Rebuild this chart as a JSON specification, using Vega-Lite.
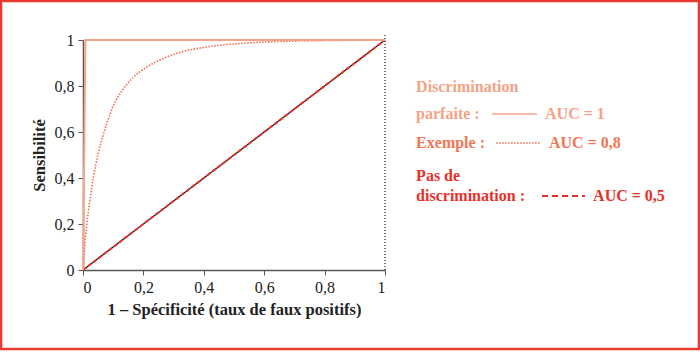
{
  "$schema": "https://vega.github.io/schema/vega-lite/v6.json",
  "width": 302,
  "height": 230,
  "autosize": {"type": "none"},
  "padding": {"left": 83, "top": 40, "right": 315, "bottom": 82},
  "background": "white",
  "data": {"values": [{}]},
  "config": {
    "view": {"stroke": null},
    "axis": {
      "grid": false,
      "domainColor": "#555555",
      "domainWidth": 1.5,
      "tickColor": "#555555",
      "tickSize": 5,
      "labelFont": "Liberation Serif",
      "labelFontSize": 16,
      "labelColor": "#222222",
      "titleFont": "Liberation Serif",
      "titleFontSize": 16.5,
      "titleFontWeight": "bold",
      "titleColor": "#222222"
    }
  },
  "datasets": {
    "roc": [
      {"fpr": 0, "tpr": 0, "serie": "parfaite"},
      {"fpr": 0.008, "tpr": 1, "serie": "parfaite"},
      {"fpr": 1, "tpr": 1, "serie": "parfaite"},
      {"fpr": 0, "tpr": 0, "serie": "exemple"},
      {"fpr": 0.004, "tpr": 0.08, "serie": "exemple"},
      {"fpr": 0.012, "tpr": 0.19, "serie": "exemple"},
      {"fpr": 0.023, "tpr": 0.305, "serie": "exemple"},
      {"fpr": 0.034, "tpr": 0.4, "serie": "exemple"},
      {"fpr": 0.051, "tpr": 0.51, "serie": "exemple"},
      {"fpr": 0.07, "tpr": 0.6, "serie": "exemple"},
      {"fpr": 0.09, "tpr": 0.68, "serie": "exemple"},
      {"fpr": 0.11, "tpr": 0.74, "serie": "exemple"},
      {"fpr": 0.135, "tpr": 0.79, "serie": "exemple"},
      {"fpr": 0.167, "tpr": 0.838, "serie": "exemple"},
      {"fpr": 0.211, "tpr": 0.882, "serie": "exemple"},
      {"fpr": 0.266, "tpr": 0.92, "serie": "exemple"},
      {"fpr": 0.321, "tpr": 0.946, "serie": "exemple"},
      {"fpr": 0.41, "tpr": 0.97, "serie": "exemple"},
      {"fpr": 0.52, "tpr": 0.985, "serie": "exemple"},
      {"fpr": 0.7, "tpr": 0.995, "serie": "exemple"},
      {"fpr": 1, "tpr": 1, "serie": "exemple"},
      {"fpr": 0, "tpr": 0, "serie": "aucune"},
      {"fpr": 1, "tpr": 1, "serie": "aucune"}
    ]
  },
  "layer": [
    {
      "mark": {"type": "rect", "fill": null, "stroke": "#e8392f", "strokeWidth": 2.5},
      "encoding": {
        "x": {"datum": -0.2715, "type": "quantitative", "scale": {"domain": [0, 1], "nice": false}},
        "x2": {"datum": 2.0397},
        "y": {"datum": 1.1696, "type": "quantitative", "scale": {"domain": [0, 1], "nice": false}},
        "y2": {"datum": -0.3435}
      }
    },
    {
      "data": {"name": "roc"},
      "transform": [{"filter": "datum.serie === 'aucune'"}],
      "mark": {"type": "line", "color": "#111111", "strokeWidth": 1.2},
      "encoding": {
        "x": {
          "field": "fpr", "type": "quantitative",
          "scale": {"domain": [0, 1], "nice": false},
          "axis": {
            "values": [0, 0.2, 0.4, 0.6, 0.8, 1],
            "labelExpr": "replace(format(datum.value, '~g'), '.', ',')",
            "labelPadding": 4,
            "titlePadding": 6,
            "title": "1 – Spécificité (taux de faux positifs)"
          }
        },
        "y": {
          "field": "tpr", "type": "quantitative",
          "scale": {"domain": [0, 1], "nice": false},
          "axis": {
            "values": [0, 0.2, 0.4, 0.6, 0.8, 1],
            "labelExpr": "replace(format(datum.value, '~g'), '.', ',')",
            "labelPadding": 4,
            "titlePadding": 7,
            "title": "Sensibilité"
          }
        }
      }
    },
    {
      "data": {"name": "roc"},
      "transform": [{"filter": "datum.serie === 'aucune'"}],
      "mark": {"type": "line", "color": "#f22a22", "strokeWidth": 2, "strokeDash": [4, 2.5]},
      "encoding": {
        "x": {"field": "fpr", "type": "quantitative"},
        "y": {"field": "tpr", "type": "quantitative"}
      }
    },
    {
      "mark": {"type": "rule", "color": "#222222", "strokeWidth": 1.2, "strokeDash": [1, 2]},
      "encoding": {
        "x": {"datum": 1, "type": "quantitative"},
        "y": {"datum": 0, "type": "quantitative"},
        "y2": {"datum": 1.03}
      }
    },
    {
      "data": {"name": "roc"},
      "transform": [{"filter": "datum.serie === 'exemple'"}],
      "mark": {"type": "line", "color": "#f26d4f", "strokeWidth": 1.6, "strokeDash": [1.5, 1.5], "interpolate": "monotone"},
      "encoding": {
        "x": {"field": "fpr", "type": "quantitative"},
        "y": {"field": "tpr", "type": "quantitative"}
      }
    },
    {
      "data": {"name": "roc"},
      "transform": [{"filter": "datum.serie === 'parfaite'"}],
      "mark": {"type": "line", "color": "#f5a489", "strokeWidth": 2},
      "encoding": {
        "x": {"field": "fpr", "type": "quantitative"},
        "y": {"field": "tpr", "type": "quantitative"}
      }
    },
    {
      "mark": {"type": "text", "font": "Liberation Serif", "fontSize": 16, "fontWeight": "bold", "align": "left", "baseline": "middle", "color": "#f5a385", "text": "Discrimination"},
      "encoding": {"x": {"datum": 1.103, "type": "quantitative"}, "y": {"datum": 0.796, "type": "quantitative"}}
    },
    {
      "mark": {"type": "text", "font": "Liberation Serif", "fontSize": 16, "fontWeight": "bold", "align": "left", "baseline": "middle", "color": "#f5a385", "text": "parfaite :"},
      "encoding": {"x": {"datum": 1.103, "type": "quantitative"}, "y": {"datum": 0.678, "type": "quantitative"}}
    },
    {
      "mark": {"type": "rule", "color": "#f5a489", "strokeWidth": 1.5},
      "encoding": {"x": {"datum": 1.354, "type": "quantitative"}, "x2": {"datum": 1.503}, "y": {"datum": 0.678, "type": "quantitative"}}
    },
    {
      "mark": {"type": "text", "font": "Liberation Serif", "fontSize": 16, "fontWeight": "bold", "align": "left", "baseline": "middle", "color": "#f5a385", "text": "AUC = 1"},
      "encoding": {"x": {"datum": 1.53, "type": "quantitative"}, "y": {"datum": 0.678, "type": "quantitative"}}
    },
    {
      "mark": {"type": "text", "font": "Liberation Serif", "fontSize": 16, "fontWeight": "bold", "align": "left", "baseline": "middle", "color": "#f27553", "text": "Exemple :"},
      "encoding": {"x": {"datum": 1.103, "type": "quantitative"}, "y": {"datum": 0.552, "type": "quantitative"}}
    },
    {
      "mark": {"type": "rule", "color": "#f26d4f", "strokeWidth": 1.5, "strokeDash": [1.5, 1.5]},
      "encoding": {"x": {"datum": 1.368, "type": "quantitative"}, "x2": {"datum": 1.513}, "y": {"datum": 0.552, "type": "quantitative"}}
    },
    {
      "mark": {"type": "text", "font": "Liberation Serif", "fontSize": 16, "fontWeight": "bold", "align": "left", "baseline": "middle", "color": "#f27553", "text": "AUC = 0,8"},
      "encoding": {"x": {"datum": 1.543, "type": "quantitative"}, "y": {"datum": 0.552, "type": "quantitative"}}
    },
    {
      "mark": {"type": "text", "font": "Liberation Serif", "fontSize": 16, "fontWeight": "bold", "align": "left", "baseline": "middle", "color": "#e8302a", "text": "Pas de"},
      "encoding": {"x": {"datum": 1.103, "type": "quantitative"}, "y": {"datum": 0.409, "type": "quantitative"}}
    },
    {
      "mark": {"type": "text", "font": "Liberation Serif", "fontSize": 16, "fontWeight": "bold", "align": "left", "baseline": "middle", "color": "#e8302a", "text": "discrimination :"},
      "encoding": {"x": {"datum": 1.103, "type": "quantitative"}, "y": {"datum": 0.322, "type": "quantitative"}}
    },
    {
      "mark": {"type": "rule", "color": "#e8302a", "strokeWidth": 2, "strokeDash": [6, 4]},
      "encoding": {"x": {"datum": 1.52, "type": "quantitative"}, "x2": {"datum": 1.662}, "y": {"datum": 0.322, "type": "quantitative"}}
    },
    {
      "mark": {"type": "text", "font": "Liberation Serif", "fontSize": 16, "fontWeight": "bold", "align": "left", "baseline": "middle", "color": "#e8302a", "text": "AUC = 0,5"},
      "encoding": {"x": {"datum": 1.689, "type": "quantitative"}, "y": {"datum": 0.322, "type": "quantitative"}}
    }
  ]
}
